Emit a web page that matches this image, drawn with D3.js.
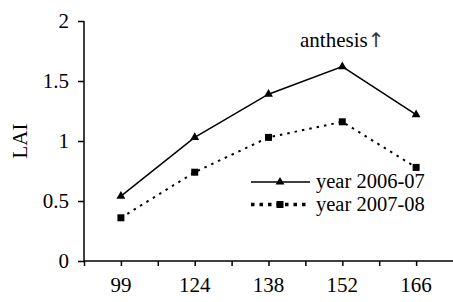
<!DOCTYPE html>
<html><head><meta charset="utf-8">
<script src="https://cdn.jsdelivr.net/npm/d3@7"></script>
<style>body{margin:0;background:#fff}svg{display:block}text{font-family:"Liberation Serif","Times New Roman",serif;fill:#000}</style>
</head><body><svg id="c" width="453" height="302"></svg>
<script>
const categories = ["99","124","138","152","166"];
const series1 = [0.54, 1.03, 1.39, 1.62, 1.22];
const series2 = [0.36, 0.74, 1.03, 1.16, 0.78];
const seriesNames = ["year 2006-07","year 2007-08"];
const yTicks = [0, 0.5, 1, 1.5, 2];
const yTickLabels = ["0","0.5","1","1.5","2"];

const FONT = "Liberation Serif";
const svg = d3.select("#c");
const x = d3.scaleLinear().domain([0, 10]).range([84, 453]);
const y = d3.scaleLinear().domain([0, 2]).range([261, 21]);
const pos = i => 2*i + 1;

// y axis
const ya = svg.append("g").attr("transform","translate(84,0)")
  .call(d3.axisLeft(y).tickValues(yTicks).tickFormat((d,i)=>yTickLabels[i]).tickSize(6).tickPadding(9));
ya.attr("font-family", FONT).attr("font-size", 21);
ya.select(".domain").attr("stroke","#000").attr("stroke-width",1.5).attr("d","M0,21V261");
ya.selectAll(".tick line").attr("stroke-width",1.5);
ya.selectAll(".tick text").attr("dy","0.33em");

// x axis with ticks every unit
const xa = svg.append("g").attr("transform","translate(0,261)")
  .call(d3.axisBottom(x).tickValues(d3.range(0,10)).tickFormat("").tickSize(5));
xa.select(".domain").attr("stroke","#000").attr("stroke-width",1.5).attr("d","M84,0H453");
xa.selectAll(".tick line").attr("stroke-width",1.5);
svg.append("g").selectAll("text").data(categories).join("text")
  .attr("x",(d,i)=>x(pos(i))).attr("y",292).attr("text-anchor","middle")
  .style("font-size","21px").text(d=>d);

// y label
svg.append("text").attr("transform","translate(27,141) rotate(-90)").attr("text-anchor","middle")
  .style("font-size","21px").text("LAI");

const line = d3.line().x((d,i)=>x(pos(i))).y(d=>y(d));
svg.append("path").datum(series1).attr("d",line).attr("fill","none").attr("stroke","#000").attr("stroke-width",1.5);
svg.append("path").datum(series2).attr("d",line).attr("fill","none").attr("stroke","#000").attr("stroke-width",2).attr("stroke-dasharray","2.5,5");

const tri = d3.symbol().type(d3.symbolTriangle).size(34);
svg.append("g").selectAll("path").data(series1).join("path")
  .attr("transform",(d,i)=>`translate(${x(pos(i))},${y(d)})`).attr("d",tri).attr("fill","#000");
const sq = d3.symbol().type(d3.symbolSquare).size(49);
svg.append("g").selectAll("path").data(series2).join("path")
  .attr("transform",(d,i)=>`translate(${x(pos(i))},${y(d)})`).attr("d",sq).attr("fill","#000");

// legend
const lg = svg.append("g");
const rows = [182, 204.5];
lg.append("line").attr("x1",251).attr("x2",310).attr("y1",rows[0]).attr("y2",rows[0]).attr("stroke","#000").attr("stroke-width",1.5);
lg.append("path").attr("transform",`translate(280,${rows[0]})`).attr("d",tri).attr("fill","#000");
lg.append("line").attr("x1",251).attr("x2",310).attr("y1",rows[1]).attr("y2",rows[1]).attr("stroke","#000").attr("stroke-width",3.5).attr("stroke-dasharray","3.5,5");
lg.append("path").attr("transform",`translate(280,${rows[1]})`).attr("d",sq).attr("fill","#000");
lg.selectAll("text.l").data(seriesNames).join("text").attr("class","l")
  .attr("x",316).attr("y",(d,i)=>rows[i]+6).style("font-size","20.5px").text(d=>d);

// annotation
const ann = svg.append("text").attr("x",300).attr("y",47).style("font-size","21px");
ann.append("tspan").text("anthesis");
ann.append("tspan").style("font-family","DejaVu Sans").style("font-size","20px").attr("fill","#333").text("↑");
</script></body></html>
